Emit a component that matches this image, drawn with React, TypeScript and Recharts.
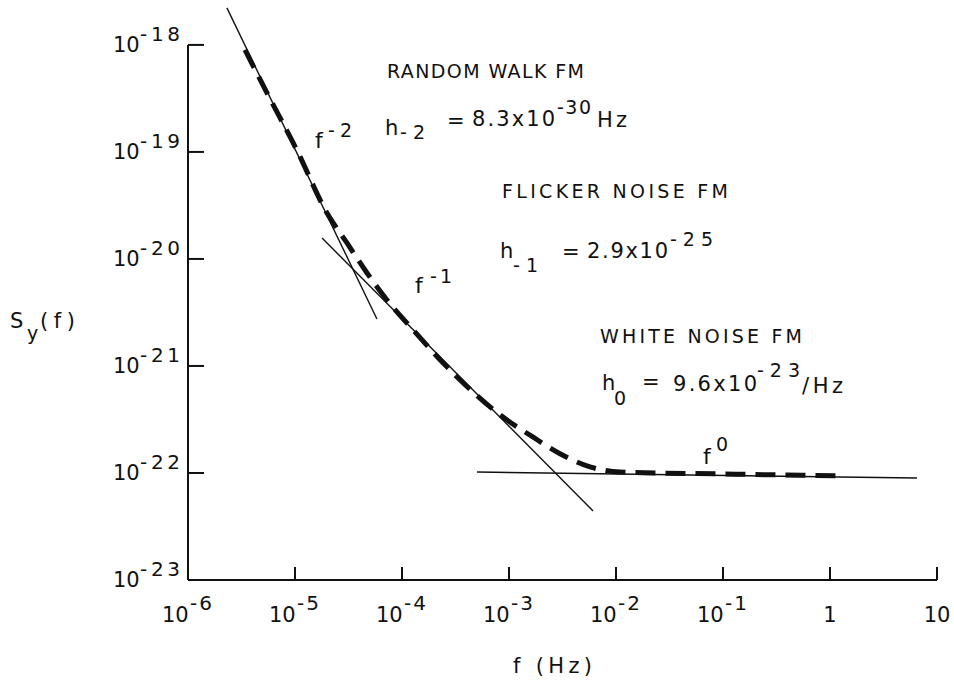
import React from "react";
import { LineChart, Line, XAxis, YAxis, ReferenceLine } from "recharts";

// frequency ticks (Hz) and their printed labels [base, exponent]
const xTicks = [1e-6, 1e-5, 1e-4, 1e-3, 1e-2, 1e-1, 1, 10];
const xTickLabels: [string, string][] = [
  ["10", "-6"],
  ["10", "-5"],
  ["10", "-4"],
  ["10", "-3"],
  ["10", "-2"],
  ["10", "-1"],
  ["1", ""],
  ["10", ""],
];

const yTicks = [1e-23, 1e-22, 1e-21, 1e-20, 1e-19, 1e-18];
const yTickLabels: [string, string][] = [
  ["10", "-23"],
  ["10", "-22"],
  ["10", "-21"],
  ["10", "-20"],
  ["10", "-19"],
  ["10", "-18"],
];

// measured spectrum (thick dashed curve)
const measured = [
  { f: 3.41e-6, s: 8.98e-19 },
  { f: 5.47e-6, s: 3.56e-19 },
  { f: 1.04e-5, s: 1.04e-19 },
  { f: 1.99e-5, s: 2.69e-20 },
  { f: 3.06e-5, s: 1.41e-20 },
  { f: 4.71e-5, s: 7.4e-21 },
  { f: 7.24e-5, s: 4.14e-21 },
  { f: 1.27e-4, s: 2.17e-21 },
  { f: 3.27e-4, s: 7.89e-22 },
  { f: 8.79e-4, s: 3.33e-22 },
  { f: 1.67e-3, s: 2.17e-22 },
  { f: 3.0e-3, s: 1.51e-22 },
  { f: 5.71e-3, s: 1.14e-22 },
  { f: 1.09e-2, s: 1.02e-22 },
  { f: 9.38e-2, s: 9.8e-23 },
  { f: 1.19, s: 9.4e-23 },
];

// asymptotes
const randomWalk = [
  { f: 2.31e-6, s: 2.22e-18 },
  { f: 5.83e-5, s: 2.75e-21 },
];
const flicker = [
  { f: 1.79e-5, s: 1.57e-20 },
  { f: 6.1e-3, s: 4.42e-23 },
];
const white = [
  { f: 5.02e-4, s: 1.02e-22 },
  { f: 6.5, s: 8.97e-23 },
];

const FONT = "'DejaVu Sans', sans-serif";
const INK = "#111";

function findIndex(list: number[], v: number) {
  return list.findIndex((t) => Math.abs(t - v) <= Math.abs(t) * 1e-6);
}

function XTick(props: any) {
  const { x, y, payload } = props;
  const i = findIndex(xTicks, payload.value);
  const [base, exp] = xTickLabels[i] ?? [String(payload.value), ""];
  return (
    <g fontFamily={FONT} fill={INK}>
      {i > 0 && <line x1={x} y1={y} x2={x} y2={y - 13} stroke={INK} strokeWidth={2} />}
      {exp ? (
        <>
          <text x={x - 26} y={y + 42} fontSize={21}>
            {base}
          </text>
          <text x={x + 2} y={y + 30} fontSize={20} letterSpacing={2}>
            {exp}
          </text>
        </>
      ) : (
        <text x={x} y={y + 42} fontSize={21} textAnchor="middle">
          {base}
        </text>
      )}
    </g>
  );
}

function YTick(props: any) {
  const { x, y, payload } = props;
  const i = findIndex(yTicks, payload.value);
  const [base, exp] = yTickLabels[i] ?? [String(payload.value), ""];
  return (
    <g fontFamily={FONT} fill={INK}>
      {i > 0 && <line x1={x} y1={y} x2={x + 16} y2={y} stroke={INK} strokeWidth={2} />}
      <text x={x - 75} y={y + 7} fontSize={21}>
        {base}
      </text>
      <text x={x - 48} y={y - 4} fontSize={20} textLength={40} lengthAdjust="spacing">
        {exp}
      </text>
    </g>
  );
}

function T({ x, y, s = 21, w, children }: { x: number; y: number; s?: number; w?: number; children: string }) {
  return (
    <text x={x} y={y} fontSize={s} textLength={w} lengthAdjust={w ? "spacing" : undefined}>
      {children}
    </text>
  );
}

export default function App() {
  return (
    <div style={{ position: "absolute", left: 0, top: 0, width: 954, height: 680, background: "#fff" }}>
      <LineChart width={954} height={680} margin={{ top: 6, right: 17, bottom: 70, left: 128 }}>
        <XAxis
          dataKey="f"
          type="number"
          scale="log"
          domain={[1e-6, 10]}
          ticks={xTicks}
          interval={0}
          allowDataOverflow
          height={30}
          axisLine={{ stroke: INK, strokeWidth: 2 }}
          tickLine={false}
          tickSize={0}
          tickMargin={0}
          tick={(p: any) => <XTick {...p} />}
        />
        <YAxis
          dataKey="s"
          type="number"
          scale="log"
          domain={[1e-23, 2.31e-18]}
          ticks={yTicks}
          interval={0}
          allowDataOverflow
          width={60}
          axisLine={false}
          tickLine={false}
          tickSize={0}
          tickMargin={0}
          tick={(p: any) => <YTick {...p} />}
        />
        <ReferenceLine
          segment={[
            { x: 1e-6, y: 1e-23 },
            { x: 1e-6, y: 1e-18 },
          ]}
          stroke={INK}
          strokeWidth={2}
          ifOverflow="visible"
        />
        <Line
          data={measured}
          dataKey="s"
          type="monotone"
          stroke={INK}
          strokeWidth={5}
          strokeDasharray="20 10"
          dot={false}
          activeDot={false}
          isAnimationActive={false}
        />
        <Line data={randomWalk} dataKey="s" type="linear" stroke={INK} strokeWidth={1.4} dot={false} activeDot={false} isAnimationActive={false} />
        <Line data={flicker} dataKey="s" type="linear" stroke={INK} strokeWidth={1.4} dot={false} activeDot={false} isAnimationActive={false} />
        <Line data={white} dataKey="s" type="linear" stroke={INK} strokeWidth={1.4} dot={false} activeDot={false} isAnimationActive={false} />
      </LineChart>

      <svg
        width={954}
        height={680}
        style={{ position: "absolute", left: 0, top: 0, pointerEvents: "none" }}
        fontFamily={FONT}
        fill={INK}
      >
        <T x={387} y={78} s={19} w={197}>RANDOM WALK FM</T>
        <T x={385} y={135}>h</T>
        <T x={400} y={139} s={19} w={25}>-2</T>
        <T x={447} y={128}>=</T>
        <T x={472} y={126} w={83}>8.3x10</T>
        <T x={557} y={114} s={19} w={34}>-30</T>
        <T x={597} y={127} w={30}>Hz</T>

        <T x={502} y={198} s={19} w={226}>FLICKER NOISE FM</T>
        <T x={500} y={258}>h</T>
        <T x={513} y={272} s={19} w={25}>-1</T>
        <T x={562} y={259}>=</T>
        <T x={587} y={258} w={81}>2.9x10</T>
        <T x={670} y={246} s={19} w={43}>-25</T>

        <T x={600} y={343} s={19} w={202}>WHITE NOISE FM</T>
        <T x={602} y={390}>h</T>
        <T x={614} y={405} s={19}>0</T>
        <T x={642} y={389}>=</T>
        <T x={673} y={391} w={84}>9.6x10</T>
        <T x={757} y={377} s={19} w={43}>-23</T>
        <T x={802} y={393} w={41}>/Hz</T>

        <T x={315} y={148} s={22}>f</T>
        <T x={328} y={137} s={19} w={24}>-2</T>
        <T x={415} y={293} s={22}>f</T>
        <T x={430} y={283} s={19} w={22}>-1</T>
        <T x={703} y={464} s={22}>f</T>
        <T x={716} y={451} s={19}>0</T>

        <T x={10} y={328} s={21}>S</T>
        <T x={27} y={340} s={19}>y</T>
        <T x={40} y={328} s={21} w={35}>(f)</T>
        <T x={513} y={673} s={21} w={79}>f (Hz)</T>
      </svg>
    </div>
  );
}
